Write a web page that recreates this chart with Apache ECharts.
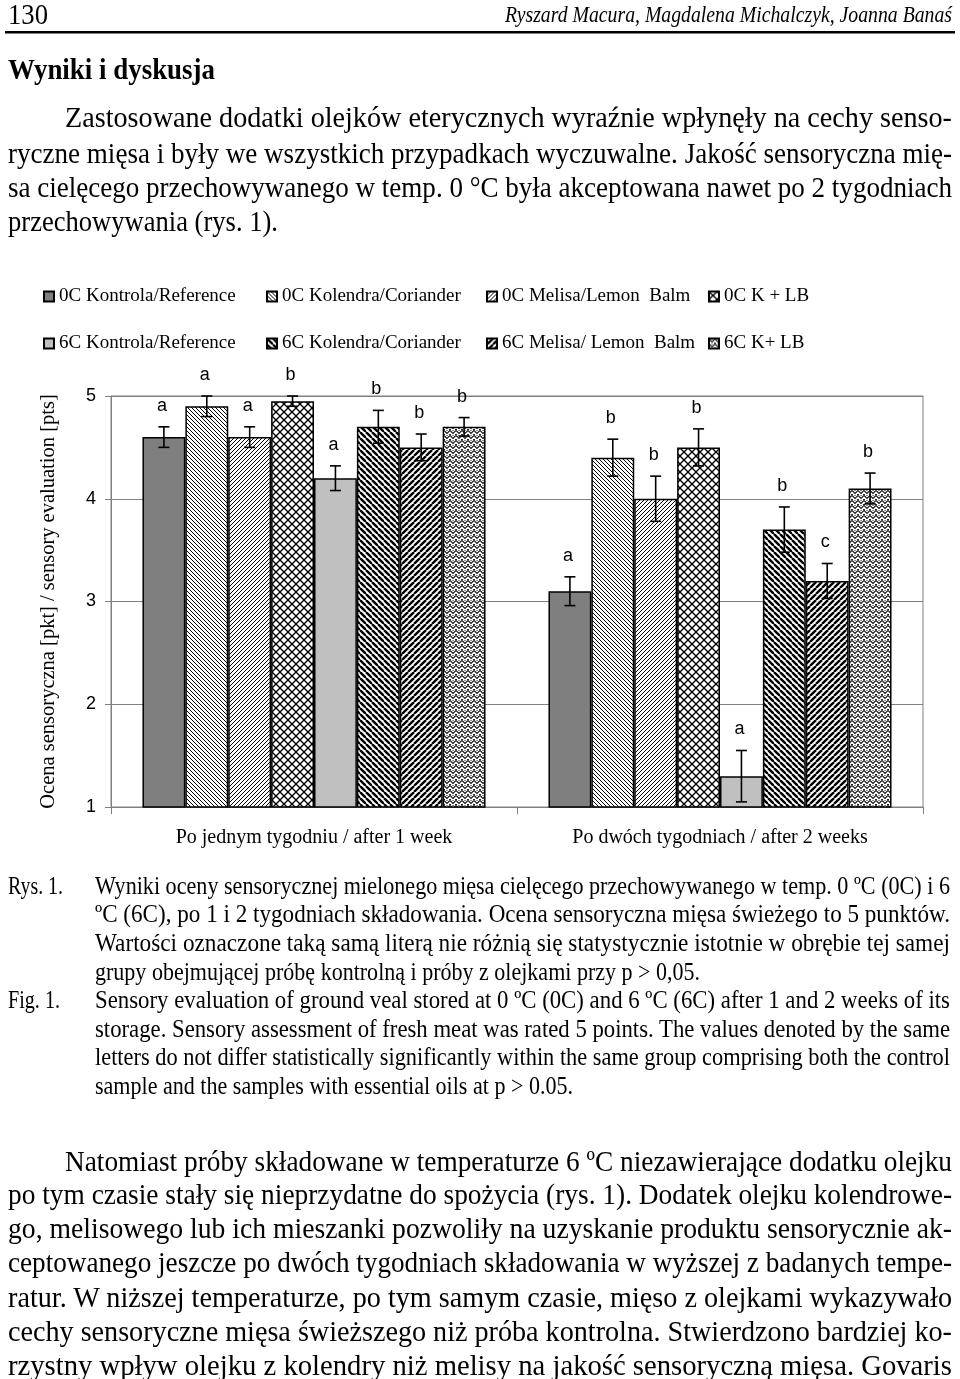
<!DOCTYPE html>
<html><head><meta charset="utf-8">
<script src="https://cdn.jsdelivr.net/npm/echarts@6/dist/echarts.min.js"></script>
<style>
html,body{margin:0;padding:0;background:#fff;}
#page{position:relative;width:960px;height:1379px;overflow:hidden;background:#fff;}
#chart{position:absolute;left:0;top:0;width:960px;height:1379px;}
#txt{position:absolute;left:0;top:0;pointer-events:none;}
#txt text{font-family:"Liberation Serif","Times New Roman",serif;fill:#000;}
</style></head>
<body><div id="page">
<div id="chart"></div>
<svg id="txt" width="960" height="1379" xmlns="http://www.w3.org/2000/svg">
<text x="8" y="24" font-size="29" textLength="40" lengthAdjust="spacingAndGlyphs">130</text>
<text x="505" y="22" font-size="24" font-style="italic" textLength="447" lengthAdjust="spacingAndGlyphs">Ryszard Macura, Magdalena Michalczyk, Joanna Banaś</text>
<rect x="5" y="31" width="950" height="2.5" fill="#000"/>
<text x="8" y="79" font-size="29" font-weight="bold" textLength="207" lengthAdjust="spacingAndGlyphs">Wyniki i dyskusja</text>
<text x="65" y="127" font-size="30" textLength="887" lengthAdjust="spacingAndGlyphs">Zastosowane dodatki olejków eterycznych wyraźnie wpłynęły na cechy senso-</text>
<text x="8" y="163" font-size="30" textLength="944" lengthAdjust="spacingAndGlyphs">ryczne mięsa i były we wszystkich przypadkach wyczuwalne. Jakość sensoryczna mię-</text>
<text x="8" y="197" font-size="30" textLength="944" lengthAdjust="spacingAndGlyphs">sa cielęcego przechowywanego w temp. 0 °C była akceptowana nawet po 2 tygodniach</text>
<text x="8" y="231" font-size="30" textLength="270" lengthAdjust="spacingAndGlyphs">przechowywania (rys. 1).</text>

<text x="8" y="894" font-size="24.5" textLength="55" lengthAdjust="spacingAndGlyphs">Rys. 1.</text>
<text x="95" y="894" font-size="24.5" textLength="855" lengthAdjust="spacingAndGlyphs">Wyniki oceny sensorycznej mielonego mięsa cielęcego przechowywanego w temp. 0 ºC (0C) i 6</text>
<text x="95" y="922" font-size="24.5" textLength="855" lengthAdjust="spacingAndGlyphs">ºC (6C), po 1 i 2 tygodniach składowania. Ocena sensoryczna mięsa świeżego to 5 punktów.</text>
<text x="95" y="951" font-size="24.5" textLength="855" lengthAdjust="spacingAndGlyphs">Wartości oznaczone taką samą literą nie różnią się statystycznie istotnie w obrębie tej samej</text>
<text x="95" y="980" font-size="24.5" textLength="605" lengthAdjust="spacingAndGlyphs">grupy obejmującej próbę kontrolną i próby z olejkami przy p &gt; 0,05.</text>
<text x="8" y="1008" font-size="24.5" textLength="52" lengthAdjust="spacingAndGlyphs">Fig. 1.</text>
<text x="95" y="1008" font-size="24.5" textLength="855" lengthAdjust="spacingAndGlyphs">Sensory evaluation of ground veal stored at 0 ºC (0C) and 6 ºC (6C) after 1 and 2 weeks of its</text>
<text x="95" y="1037" font-size="24.5" textLength="855" lengthAdjust="spacingAndGlyphs">storage. Sensory assessment of fresh meat was rated 5 points. The values denoted by the same</text>
<text x="95" y="1065" font-size="24.5" textLength="855" lengthAdjust="spacingAndGlyphs">letters do not differ statistically significantly within the same group comprising both the control</text>
<text x="95" y="1094" font-size="24.5" textLength="478" lengthAdjust="spacingAndGlyphs">sample and the samples with essential oils at p &gt; 0.05.</text>

<text x="65" y="1171" font-size="30" textLength="887" lengthAdjust="spacingAndGlyphs">Natomiast próby składowane w temperaturze 6 ºC niezawierające dodatku olejku</text>
<text x="8" y="1204" font-size="30" textLength="944" lengthAdjust="spacingAndGlyphs">po tym czasie stały się nieprzydatne do spożycia (rys. 1). Dodatek olejku kolendrowe-</text>
<text x="8" y="1238" font-size="30" textLength="944" lengthAdjust="spacingAndGlyphs">go, melisowego lub ich mieszanki pozwoliły na uzyskanie produktu sensorycznie ak-</text>
<text x="8" y="1272" font-size="30" textLength="944" lengthAdjust="spacingAndGlyphs">ceptowanego jeszcze po dwóch tygodniach składowania w wyższej z badanych tempe-</text>
<text x="8" y="1307" font-size="30" textLength="944" lengthAdjust="spacingAndGlyphs">ratur. W niższej temperaturze, po tym samym czasie, mięso z olejkami wykazywało</text>
<text x="8" y="1341" font-size="30" textLength="944" lengthAdjust="spacingAndGlyphs">cechy sensoryczne mięsa świeższego niż próba kontrolna. Stwierdzono bardziej ko-</text>
<text x="8" y="1375" font-size="30" textLength="944" lengthAdjust="spacingAndGlyphs">rzystny wpływ olejku z kolendry niż melisy na jakość sensoryczną mięsa. Govaris</text>
</svg>
</div>
<script>
// ---- data ----
const categories = ['Po jednym tygodniu / after 1 week', 'Po dwóch tygodniach / after 2 weeks'];
const seriesNames = ['0C Kontrola/Reference', '0C Kolendra/Coriander', '0C Melisa/Lemon  Balm', '0C K + LB',
                     '6C Kontrola/Reference', '6C Kolendra/Coriander', '6C Melisa/ Lemon  Balm', '6C K+ LB'];
const kontrola0C = [4.6, 3.1];
const kolendra0C = [4.9, 4.4];
const melisa0C   = [4.6, 4.0];
const klb0C      = [4.95, 4.5];
const kontrola6C = [4.2, 1.3];
const kolendra6C = [4.7, 3.7];
const melisa6C   = [4.5, 3.2];
const klb6C      = [4.7, 4.1];
const errKontrola0C = [0.10, 0.14];
const errKolendra0C = [0.10, 0.18];
const errMelisa0C   = [0.10, 0.22];
const errKlb0C      = [0.05, 0.18];
const errKontrola6C = [0.12, 0.25];
const errKolendra6C = [0.16, 0.22];
const errMelisa6C   = [0.13, 0.17];
const errKlb6C      = [0.09, 0.15];
const lettersKontrola0C = ['a', 'a'];
const lettersKolendra0C = ['a', 'b'];
const lettersMelisa0C   = ['a', 'b'];
const lettersKlb0C      = ['b', 'b'];
const lettersKontrola6C = ['a', 'a'];
const lettersKolendra6C = ['b', 'b'];
const lettersMelisa6C   = ['b', 'c'];
const lettersKlb6C      = ['b', 'b'];
const yTicks = [1, 2, 3, 4, 5];

const values = [kontrola0C, kolendra0C, melisa0C, klb0C, kontrola6C, kolendra6C, melisa6C, klb6C];
const errors = [errKontrola0C, errKolendra0C, errMelisa0C, errKlb0C, errKontrola6C, errKolendra6C, errMelisa6C, errKlb6C];
const letters = [lettersKontrola0C, lettersKolendra0C, lettersMelisa0C, lettersKlb0C, lettersKontrola6C, lettersKolendra6C, lettersMelisa6C, lettersKlb6C];

// ---- patterns ----
function tile(w, h, draw) {
  const c = document.createElement('canvas'); c.width = w; c.height = h;
  const g = c.getContext('2d'); g.fillStyle = '#fff'; g.fillRect(0, 0, w, h);
  g.strokeStyle = '#000'; draw(g, w, h);
  return { image: c, repeat: 'repeat' };
}
function down(g, w, lw) { g.lineWidth = lw; for (const k of [-w, 0, w]) { g.beginPath(); g.moveTo(k, 0); g.lineTo(k + w, w); g.stroke(); } }
function up(g, w, lw) { g.lineWidth = lw; for (const k of [-w, 0, w]) { g.beginPath(); g.moveTo(k, w); g.lineTo(k + w, 0); g.stroke(); } }
const fills = [
  '#7f7f7f',
  tile(4, 4, (g, w) => down(g, w, 1)),
  tile(4, 4, (g, w) => up(g, w, 1)),
  tile(8, 8, (g, w) => { down(g, w, 1.3); up(g, w, 1.3); }),
  '#c0c0c0',
  tile(6, 6, (g, w) => down(g, w, 2.4)),
  tile(6, 6, (g, w) => up(g, w, 2.4)),
  tile(6, 5, (g) => { g.strokeStyle = '#111'; g.lineWidth = 1.1; g.beginPath(); g.moveTo(0, 0.5); g.lineTo(3, 3.5); g.lineTo(6, 0.5); g.stroke();
                      g.fillStyle = '#222'; g.fillRect(2.5, 0, 1, 1); g.fillRect(0, 4, 1, 1); g.fillRect(5, 4, 1, 1); })
];

const GAP = 0.155;
const series = values.map((v, i) => ({
  name: seriesNames[i], type: 'bar', data: v, barGap: '0%', barCategoryGap: (GAP * 100) + '%',
  itemStyle: { color: fills[i], borderColor: '#000', borderWidth: 1.5 },
  emphasis: { disabled: true }, z: 2
}));

const errData = [];
values.forEach((v, i) => v.forEach((val, c) => errData.push([c, i, val, errors[i][c], letters[i][c]])));
series.push({
  type: 'custom', name: 'err', data: errData, encode: { x: 0, y: 2 }, z: 5, silent: true,
  renderItem: function (params, api) {
    const c = api.value(0), i = api.value(1), val = api.value(2), e = api.value(3);
    const letter = errData[params.dataIndex][4];
    const band = api.size([1, 0])[0];
    const bw = band * (1 - GAP) / values.length;
    const x = api.coord([c, val])[0] + (i - (values.length - 1) / 2) * bw;
    const yt = api.coord([c, val + e])[1];
    const yb = api.coord([c, val - e])[1];
    const cap = 5.5;
    const st = { stroke: '#000', lineWidth: 1.6 };
    return { type: 'group', children: [
      { type: 'line', shape: { x1: x, y1: yt, x2: x, y2: yb }, style: st },
      { type: 'line', shape: { x1: x - cap, y1: yt, x2: x + cap, y2: yt }, style: st },
      { type: 'line', shape: { x1: x - cap, y1: yb, x2: x + cap, y2: yb }, style: st },
      { type: 'text', style: { x: x - 2, y: yt - 21, text: letter, fill: '#000', align: 'center', verticalAlign: 'middle',
        font: '18px "Liberation Sans", Arial, sans-serif' } }
    ]};
  }
});

const legendLefts = [38, 261, 481, 703];
const legends = legendLefts.map((l, k) => ({
  orient: 'vertical', left: l, top: 282, itemGap: 28, itemWidth: 10, itemHeight: 10,
  selectedMode: false, icon: 'rect',
  data: [seriesNames[k], seriesNames[k + 4]],
  textStyle: { fontFamily: '"Liberation Serif", "Times New Roman", serif', fontSize: 19, color: '#000' }
}));

const chart = echarts.init(document.getElementById('chart'), null, { renderer: 'canvas' });
chart.setOption({
  animation: false,
  backgroundColor: 'transparent',
  legend: legends,
  grid: { left: 111, right: 37, top: 396, bottom: 572, show: true, borderColor: '#808080', borderWidth: 1, backgroundColor: 'transparent' },
  xAxis: {
    type: 'category', data: categories,
    axisLine: { lineStyle: { color: '#808080', width: 1 } },
    axisTick: { show: true, length: 7, lineStyle: { color: '#808080' } },
    axisLabel: { margin: 21, color: '#000', fontSize: 20, fontFamily: '"Liberation Serif", "Times New Roman", serif' }
  },
  yAxis: {
    type: 'value', min: yTicks[0], max: yTicks[yTicks.length - 1], interval: 1,
    name: 'Ocena sensoryczna [pkt] / sensory evaluation [pts]', nameLocation: 'middle', nameGap: 52,
    nameTextStyle: { color: '#000', fontSize: 20.5, fontFamily: '"Liberation Serif", "Times New Roman", serif' },
    axisLine: { show: true, lineStyle: { color: '#808080', width: 1 } },
    axisTick: { show: true, length: 6, lineStyle: { color: '#808080' } },
    splitLine: { show: true, lineStyle: { color: '#808080', width: 1 } },
    axisLabel: { margin: 15, color: '#000', fontSize: 18, fontFamily: '"Liberation Sans", Arial, sans-serif' }
  },
  series: series
});
</script>
</body></html>
